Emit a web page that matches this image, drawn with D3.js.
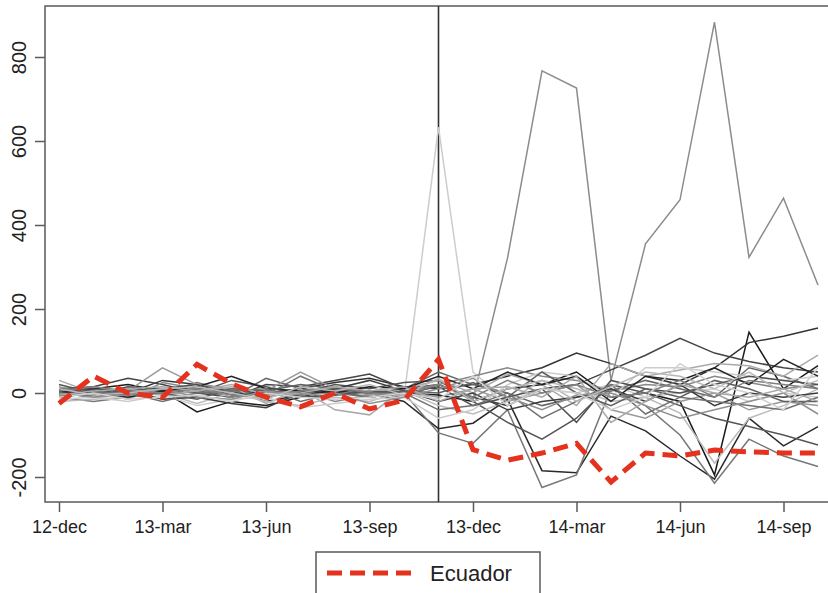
<!DOCTYPE html>
<html>
<head>
<meta charset="utf-8">
<script src="https://cdn.jsdelivr.net/npm/d3@7"></script>
<style>
    body { margin: 0; background: #fff; }
    svg { display: block; font-family: "Liberation Sans", Arial, sans-serif; }
</style>
</head>
<body>
<svg id="chart" width="828" height="593"></svg>
<script>
// monthly observations, 12-dec .. 14-oct
const months = ["12-dec", "13-jan", "13-feb", "13-mar", "13-apr", "13-may", "13-jun", "13-jul",
    "13-aug", "13-sep", "13-oct", "13-nov", "13-dec", "14-jan", "14-feb", "14-mar", "14-apr",
    "14-may", "14-jun", "14-jul", "14-aug", "14-sep", "14-oct"];
const xTickLabels = ["12-dec", "13-mar", "13-jun", "13-sep", "13-dec", "14-mar", "14-jun", "14-sep"];
const yTicks = [-200, 0, 200, 400, 600, 800];
const breakMonth = "13-nov";

const ecuador = [-25, 40, 0, -10, 68, 22, -10, -33, 0, -38, -17, 80, -135, -160, -143, -120,
    -212, -143, -150, -136, -140, -143, -143];

// the other countries, grey shade + values
const otherShades = ["#8c8c8c", "#cdcdcd", "#1a1a1a", "#333", "#444", "#2a2a2a", "#777", "#555",
    "#666", "#888", "#999", "#aaa", "#bbb", "#ccc", "#222", "#3c3c3c", "#505050", "#606060",
    "#707070", "#808080", "#909090", "#a8a8a8", "#b8b8b8", "#d0d0d0"];
const otherValues = [
    [5, 0, -5, 10, 5, 0, -5, 10, 5, 0, -10, 20, -15, 321, 767, 726, 30, 355, 460, 883, 323, 464, 257],
    [0, -5, 5, 0, -10, 5, 0, -5, 10, 15, -10, 633, 50, -20, 10, 0, 20, -10, 0, 10, -20, 0, -10],
    [8, 10, 20, 5, -45, -20, -30, -10, 10, 5, 0, -5, -20, 10, 20, 50, -10, 0, -20, -195, 145, 10, 65],
    [0, 5, 0, 30, 20, 5, 0, 10, 25, 35, 15, 10, 20, 40, 60, 95, 70, 40, 20, 60, 120, 135, 155],
    [10, 15, 35, 20, 0, -10, 20, 15, 30, 45, 10, 20, -10, -30, 10, 20, 55, 90, 130, 95, 75, 60, 50],
    [0, 0, 5, 0, 10, 5, -20, -5, 5, 0, -20, -85, -72, -15, -185, -190, -55, -90, -150, -205, -60, -126, -80],
    [-10, -20, -10, 0, 25, 5, -5, 40, 5, -10, 0, -95, -120, -40, -225, -195, 10, -30, -100, -215, -110, -150, -175],
    [20, 0, 10, 5, 0, 30, 15, 0, 20, 10, 25, 30, -20, -70, -110, -60, 20, 0, -30, -60, -80, -100, -124],
    [0, -10, 5, 10, 5, -10, 35, 10, -5, 0, 10, 50, 20, 0, -30, -10, 5, 30, 10, -10, 60, 40, 10],
    [-5, 5, -15, 25, 10, -10, 0, 5, -20, -5, 5, 20, 40, 60, 40, 30, 5, 20, 15, 40, 25, 10, 20],
    [15, -5, 5, 60, 20, 10, 5, 50, 10, -5, 5, -10, 10, -20, 0, 20, -40, -60, -20, 0, -40, -20, -30],
    [30, 0, 10, -5, 5, 15, -25, 10, -40, -52, 10, 30, 0, 45, 20, -30, 70, 40, 55, 70, 65, 40, 90],
    [-20, -15, -10, 0, -25, 0, -20, -30, -10, -20, 5, -30, -50, -20, 30, 10, -20, -10, -48, -167, -60, -30, 10],
    [-15, -10, -20, -5, -30, -15, -10, -35, -25, -15, -10, -60, -40, 20, 50, 40, -10, 60, 60, 50, 40, 30, 40],
    [5, 0, -10, 5, 15, 40, 10, 5, 0, 15, 10, 40, 10, 50, 20, 40, -20, 40, 30, 60, 20, 80, 40],
    [0, 10, 5, -15, -10, -25, -35, 0, 10, 30, 5, -20, 0, -40, -20, -10, 10, -20, 20, -30, 0, -10, 0],
    [-5, -5, 15, 10, 20, -5, 0, -10, -5, 5, 0, 15, -30, -10, 10, -70, 30, 10, 0, 20, 40, 30, 20],
    [10, 5, -5, 0, -15, 10, 5, 20, 10, 0, 5, 0, 25, -10, 50, 0, -30, 10, -10, 30, 10, -20, -20],
    [-10, 0, 0, -20, 0, 5, 10, -20, 0, -10, 0, -40, -30, 0, -60, -20, 20, -50, -10, -20, -30, -40, -10],
    [5, 15, 5, 0, 10, -5, -10, 5, 15, 0, -5, 20, -10, 30, 0, 20, -10, 0, 30, -10, 30, 20, 10],
    [0, -10, -5, 10, -10, -15, 5, -5, 0, -25, -10, 10, 35, -10, -40, -5, 0, -30, -60, -40, -20, 0, -50],
    [-5, 5, 10, 15, 5, 20, -5, 0, 15, 5, 15, -20, 10, 15, -10, 40, -70, -20, 20, 0, -10, 10, -20],
    [10, -5, 0, 10, 15, 0, -15, 15, 5, 20, -5, 35, -20, 10, 30, -20, 15, 50, 40, 10, 50, 0, 30],
    [-10, 0, -15, -10, -5, -20, 0, -10, -15, -10, 0, -15, 40, -30, 10, 0, -40, -10, 70, 20, 0, -40, 60]
];

const RED = "#e4321f";
const AXIS_COLOR = "#5a5a5a";

const svg = d3.select("#chart");
const plot = { left: 45, top: 6, right: 840, bottom: 502 };

// first obs sits at 59, last at 818
const x = d3.scalePoint().domain(months).range([59, 818]);
const y = d3.scaleLinear().domain([-200, 800]).range([477, 57]);

function drawFrame() {
    svg.append("rect")
        .attr("x", plot.left).attr("y", plot.top)
        .attr("width", plot.right - plot.left).attr("height", plot.bottom - plot.top)
        .attr("fill", "none").attr("stroke", AXIS_COLOR).attr("stroke-width", 1.5);

    // plain hyphen for negatives, like the original
    let yAxis = svg.append("g")
        .attr("transform", "translate(" + plot.left + ",0)")
        .call(d3.axisLeft(y).tickValues(yTicks).tickSize(10).tickFormat((d) => String(d)));
    yAxis.select(".domain").remove();
    yAxis.selectAll("line").attr("stroke", AXIS_COLOR).attr("stroke-width", 1.5);
    yAxis.selectAll(".tick text")
        .attr("x", null).attr("y", 0).attr("dy", null)
        .attr("transform", "translate(-19,0) rotate(-90)")
        .attr("text-anchor", "middle")
        .attr("fill", "#222")
        .style("font-size", "20px");

    let xAxis = svg.append("g")
        .attr("transform", "translate(0," + plot.bottom + ")")
        .call(d3.axisBottom(x).tickValues(xTickLabels).tickSize(10).tickPadding(8));
    xAxis.select(".domain").remove();
    xAxis.selectAll("line").attr("stroke", AXIS_COLOR).attr("stroke-width", 1.5);
    xAxis.selectAll("text")
        .attr("fill", "#222")
        .style("font-size", "18px");
}

function drawLines() {
    const line = d3.line()
        .x((d, i) => x(months[i]))
        .y((d) => y(d));

    svg.append("line")
        .attr("x1", x(breakMonth)).attr("x2", x(breakMonth))
        .attr("y1", plot.top).attr("y2", plot.bottom)
        .attr("stroke", "#333").attr("stroke-width", 1.6);

    svg.append("g")
        .selectAll("path")
        .data(otherValues)
        .enter().append("path")
            .attr("d", line)
            .attr("fill", "none")
            .attr("stroke", (d, i) => otherShades[i])
            .attr("stroke-width", 1.5);

    svg.append("path")
        .attr("d", line(ecuador))
        .attr("fill", "none")
        .attr("stroke", RED)
        .attr("stroke-width", 5)
        .attr("stroke-dasharray", "15,8");
}

function drawLegend() {
    let g = svg.append("g");
    g.append("rect")
        .attr("x", 316).attr("y", 552).attr("width", 224).attr("height", 60)
        .attr("fill", "#fff").attr("stroke", AXIS_COLOR).attr("stroke-width", 1.5);
    g.append("line")
        .attr("x1", 327).attr("x2", 415).attr("y1", 573).attr("y2", 573)
        .attr("stroke", RED).attr("stroke-width", 5).attr("stroke-dasharray", "15,8");
    g.append("text")
        .attr("x", 430).attr("y", 581)
        .attr("fill", "#222")
        .style("font-size", "22px")
        .text("Ecuador");
}

drawFrame();
drawLines();
drawLegend();
</script>
</body>
</html>
